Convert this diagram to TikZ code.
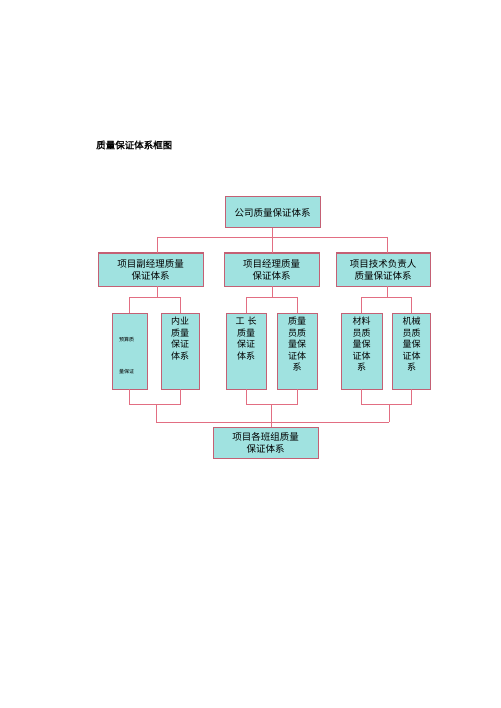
\documentclass[tikz,border=0pt]{standalone}
\usepackage{fontspec}
\newfontfamily\cjk{Noto Sans CJK SC}
\newfontfamily\cjkb[FakeBold=1.5]{Noto Sans CJK SC}
\definecolor{boxfill}{RGB}{160,226,224}
\definecolor{boxred}{RGB}{196,96,116}
\definecolor{linered}{RGB}{226,110,130}
\begin{document}
\begin{tikzpicture}[x=1pt,y=-1pt,
  box/.style={draw=boxred, fill=boxfill, line width=1pt, inner sep=0pt, outer sep=0pt},
  conn/.style={draw=linered, line width=0.8pt},
  txt/.style={font=\cjk\fontsize{9.5}{12}\selectfont, align=center},
  vtxt/.style={font=\cjk\fontsize{9}{11.5}\selectfont, align=center, inner sep=0pt, anchor=north},
  tiny/.style={font=\cjk\fontsize{5}{6}\selectfont, inner sep=0pt}]
\useasboundingbox[fill=white] (0,0) rectangle (500,708);

\node[font=\cjkb\fontsize{9.5}{11}\selectfont, anchor=west, inner sep=0pt] (title) at (96,145) {质量保证体系框图};

% top box
\node[box, txt, minimum width=95pt, minimum height=31pt] (top) at (272.5,212.5) {公司质量保证体系};

% middle boxes
\node[box, txt, minimum width=105pt, minimum height=33pt] (mL) at (150.5,269.5) {项目副经理质量\\保证体系};
\node[box, txt, minimum width=95pt, minimum height=33pt] (mM) at (271.5,269.5) {项目经理质量\\保证体系};
\node[box, txt, minimum width=94pt, minimum height=33pt] (mR) at (383,269.5) {项目技术负责人\\质量保证体系};

% small boxes
\node[box, minimum width=35pt, minimum height=76pt] (s1) at (129.5,351) {};
\node[box, minimum width=38pt, minimum height=76pt] (s2) at (180,351) {};
\node[box, minimum width=40pt, minimum height=76pt] (s3) at (246,351) {};
\node[box, minimum width=40pt, minimum height=76pt] (s4) at (297,351) {};
\node[box, minimum width=41pt, minimum height=76pt] (s5) at (361.5,351) {};
\node[box, minimum width=38pt, minimum height=76pt] (s6) at (411.5,351) {};

\node[tiny] (t1a) at (126.5,340) {预算质};
\node[tiny] (t1b) at (126.5,372) {量保证};
\node[vtxt] (t2) at ([yshift=-4pt]s2.north) {内业\\质量\\保证\\体系};
\node[vtxt] (t3) at ([yshift=-4pt]s3.north) {工\hspace{3pt}长\\质量\\保证\\体系};
\node[vtxt] (t4) at ([yshift=-4pt]s4.north) {质量\\员质\\量保\\证体\\系};
\node[vtxt] (t5) at ([yshift=-4pt]s5.north) {材料\\员质\\量保\\证体\\系};
\node[vtxt] (t6) at ([yshift=-4pt]s6.north) {机械\\员质\\量保\\证体\\系};

% bottom box
\node[box, txt, minimum width=105pt, minimum height=31pt] (bot) at (265.5,442.5) {项目各班组质量\\保证体系};

% connectors: top level
\coordinate (j0) at (272.5,237);
\coordinate (jl) at (157,237);
\coordinate (jm) at (272.5,237);
\coordinate (jr) at (387,237);
\draw[conn] (top.south) -- (j0);
\draw[conn] (jl) -- (jr);
\draw[conn] (jl) -- (jl |- mL.north);
\draw[conn] (jm) -- (jm |- mM.north);
\draw[conn] (jr) -- (jr |- mR.north);

% upper brackets
\coordinate (uL) at (157,297);
\coordinate (uM) at (272.5,297);
\coordinate (uR) at (387,297);
\draw[conn] (uL |- mL.south) -- (uL);
\draw[conn] (uM |- mM.south) -- (uM);
\draw[conn] (uR |- mR.south) -- (uR);
\draw[conn] (s1.north) -- (s1.north |- uL) -- (s2.north |- uL) -- (s2.north);
\draw[conn] (s3.north) -- (s3.north |- uM) -- (s4.north |- uM) -- (s4.north);
\draw[conn] (s5.north) -- (s5.north |- uR) -- (s6.north |- uR) -- (s6.north);

% lower brackets
\coordinate (lL) at (156,404);
\coordinate (lM) at (271,404);
\coordinate (lR) at (389,404);
\draw[conn] (s1.south) -- (s1.south |- lL) -- (s2.south |- lL) -- (s2.south);
\draw[conn] (s3.south) -- (s3.south |- lM) -- (s4.south |- lM) -- (s4.south);
\draw[conn] (s5.south) -- (s5.south |- lR) -- (s6.south |- lR) -- (s6.south);
\coordinate (bL) at (156,422);
\coordinate (bM) at (271,422);
\coordinate (bR) at (389,422);
\draw[conn] (lL) -- (bL);
\draw[conn] (lM) -- (bM);
\draw[conn] (lR) -- (bR);
\draw[conn] (bL) -- (bR);
\draw[conn] (bM) -- (bM |- bot.north);
\end{tikzpicture}
\end{document}
